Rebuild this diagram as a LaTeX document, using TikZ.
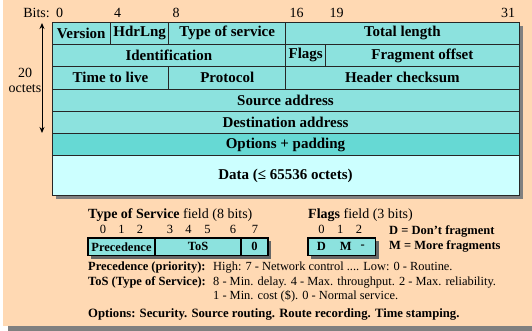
\documentclass[tikz,border=0pt]{standalone}
\usepackage{fontspec}
\setmainfont{Liberation Serif}
\usetikzlibrary{arrows.meta, positioning}

\definecolor{peach}{RGB}{255,217,179}
\definecolor{fieldc}{RGB}{140,226,222}
\definecolor{optc}{RGB}{102,217,212}
\definecolor{datac}{RGB}{204,255,255}
\definecolor{shadowc}{RGB}{128,128,128}

\tikzset{
  field/.style={draw=black!85, line width=0.7pt, fill=fieldc, inner sep=0pt, outer sep=0pt,
    minimum height=22.3pt, font=\fontsize{15}{16}\selectfont\bfseries},
  bitbox/.style={draw=black, line width=1.1pt, fill=fieldc, inner sep=0pt, outer sep=0pt,
    minimum height=17.5pt, font=\fontsize{12.5}{14}\selectfont\bfseries},
  bitnum/.style={inner sep=0pt, font=\fontsize{14}{16}\selectfont},
  smallnum/.style={inner sep=0pt, font=\fontsize{12.5}{14}\selectfont},
  note/.style={inner sep=0pt, anchor=west, font=\fontsize{12.4}{14}\selectfont},
  notelbl/.style={note, font=\fontsize{12.5}{14}\selectfont\bfseries}
}

\begin{document}
\begin{tikzpicture}[x=1pt, y=-1pt]
	\useasboundingbox (0,0) rectangle (532,331);
	% Slide background
	\fill[shadowc] (8,326) rectangle (532,331);
	\fill[peach] (3,0) rectangle (532,326);
	\fill[shadowc] (56,26) rectangle (523,199.3);

	% Header, row 1
	\node (version) [field, anchor=north west, minimum width=58.4pt] at (52,22) {Version};
	\node (hdrlng) [field, right=0pt of version, minimum width=58.4pt] {HdrLng};
	\node (tos) [field, right=0pt of hdrlng, minimum width=116.9pt] {Type of service};
	\node (totlen) [field, right=0pt of tos, minimum width=233.3pt] {Total length};
	% Row 2
	\node (ident) [field, below right=0pt and 0pt of version.south west, minimum width=233.7pt] {Identification};
	\node (flags) [field, right=0pt of ident, minimum width=40pt] {Flags};
	\node (fragoff) [field, right=0pt of flags, minimum width=193.3pt] {Fragment offset};
	% Row 3
	\node (ttl) [field, below right=0pt and 0pt of ident.south west, minimum width=116.8pt] {Time to live};
	\node (proto) [field, right=0pt of ttl, minimum width=116.9pt] {Protocol};
	\node (checksum) [field, right=0pt of proto, minimum width=233.3pt] {Header checksum};
	% Full width rows
	\node (srcaddr) [field, below right=0pt and 0pt of ttl.south west, minimum width=467pt] {Source address};
	\node (dstaddr) [field, below=0pt of srcaddr, minimum width=467pt] {Destination address};
	\node (options) [field, below=0pt of dstaddr, minimum width=467pt, fill=optc] {Options + padding};
	\node (data) [field, below=0pt of options, minimum width=467pt, minimum height=39.5pt, fill=datac] {Data (≤ 65536 octets)};

	% Bit numbers
	\node (bits) [bitnum, anchor=east] at (50,13) {Bits:};
	\node (b0) [bitnum] at (59.5,13) {0};
	\node (b4) [bitnum] at (117.5,13) {4};
	\node (b8) [bitnum] at (176,13) {8};
	\node (b16) [bitnum] at (296.7,13) {16};
	\node (b19) [bitnum] at (336.7,13) {19};
	\node (b31) [bitnum] at (508,13) {31};

	% Header length arrow
	\coordinate (hdrtop) at (42,23);
	\coordinate (hdrbot) at (42,133);
	\draw[{Stealth[length=6pt,width=5pt]}-{Stealth[length=6pt,width=5pt]}, line width=0.9pt] (hdrtop) -- (hdrbot);
	\node (octets) [inner sep=0pt, align=center, font=\fontsize{14}{15}\selectfont] at (25,80) {20\\octets};

	% Type of service field
	\node (tostitle) [note, font=\fontsize{14}{16}\selectfont] at (88,215) {\textbf{Type of Service} field (8 bits)};
	\foreach \x/\d in {103/0, 121.5/1, 140/2, 170/3, 188.5/4, 207.5/5, 233/6, 255/7}
		\node (tb\d) [smallnum] at (\x,229.5) {\d};
	\fill[black!60] (91,241) rectangle (271,258.5);
	\node (prec) [bitbox, anchor=north west, minimum width=67pt] at (88,238) {Precedence};
	\node (tosbits) [bitbox, right=0pt of prec, minimum width=86pt] {ToS};
	\node (zero) [bitbox, right=0pt of tosbits, minimum width=27pt] {0};

	% Flags field
	\node (flagtitle) [note, font=\fontsize{14}{16}\selectfont] at (308,215) {\textbf{Flags} field (3 bits)};
	\foreach \x/\d in {321.5/0, 340.3/1, 359/2}
		\node (fb\d) [smallnum] at (\x,229.5) {\d};
	\fill[black!60] (311,241) rectangle (378.7,258.5);
	\node (flagbox) [bitbox, anchor=north west, minimum width=67.7pt] at (308,238) {};
	\node (fd) [inner sep=0pt, font=\fontsize{12.5}{14}\selectfont\bfseries] at (321.5,246.5) {D};
	\node (fm) [inner sep=0pt, font=\fontsize{12.5}{14}\selectfont\bfseries] at (345.7,246.5) {M};
	\node (fx) [inner sep=0pt, font=\fontsize{12.5}{14}\selectfont\bfseries] at (362.7,246.5) {-};
	\node (dfrag) [note, font=\fontsize{12.5}{14}\selectfont\bfseries] at (389,231.7) {D = Don’t fragment};
	\node (mfrag) [note, font=\fontsize{12.5}{14}\selectfont\bfseries] at (389,246) {M = More fragments};

	% Explanations
	\node (preclbl) [notelbl] at (88,267.3) {Precedence (priority):};
	\node (prectxt) [note] at (213,267.3) {High: 7 - Network control .... Low: 0 - Routine.};
	\node (toslbl) [notelbl] at (88,282.3) {ToS (Type of Service):};
	\node (tostxt) [note] at (213,282.3) {8 - Min. delay. 4 - Max. throughput. 2 - Max. reliability.};
	\node (tostxt2) [note] at (213,296.7) {1 - Min. cost (\$). 0 - Normal service.};
	\node (opttxt) [notelbl, font=\fontsize{12.7}{14}\selectfont\bfseries] at (88,314) {Options: Security. Source routing. Route recording. Time stamping.};
\end{tikzpicture}
\end{document}
